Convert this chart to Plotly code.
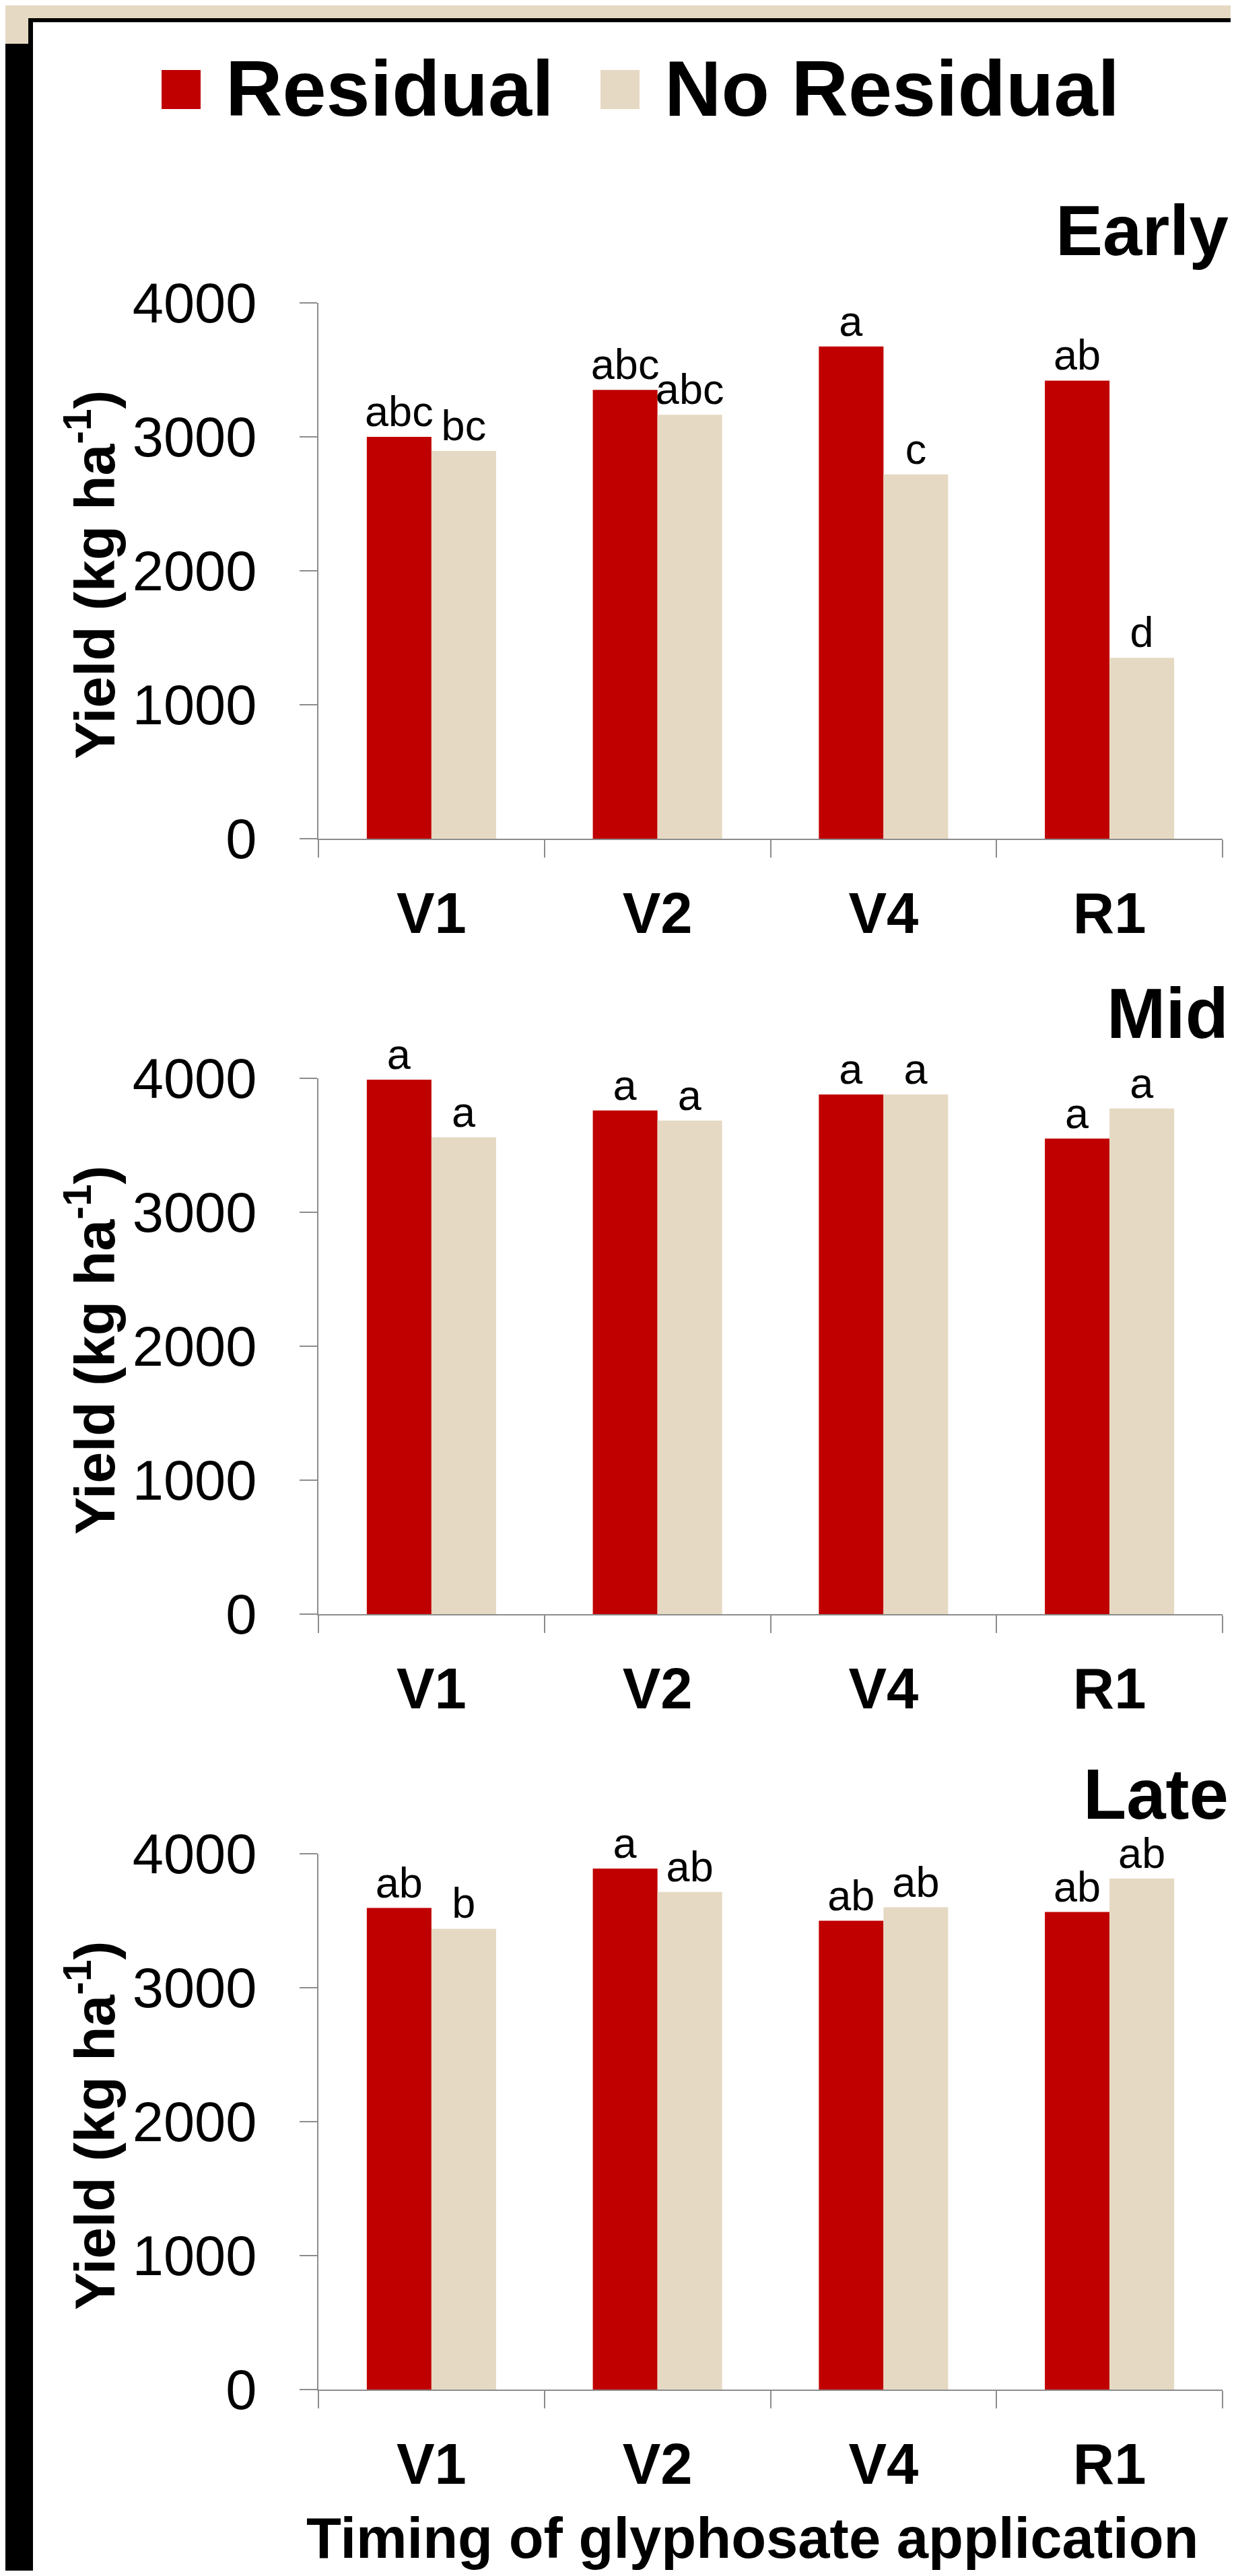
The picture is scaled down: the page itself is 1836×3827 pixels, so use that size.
import plotly.graph_objects as go

# ---------------- data ----------------
stages = ["V1", "V2", "V4", "R1"]
panels = ["Early", "Mid", "Late"]

early_residual = [3000, 3350, 3675, 3420]
early_noresidual = [2895, 3165, 2720, 1350]
early_res_letters = ["abc", "abc", "a", "ab"]
early_nores_letters = ["bc", "abc", "c", "d"]

mid_residual = [3990, 3760, 3880, 3550]
mid_noresidual = [3560, 3685, 3880, 3775]
mid_res_letters = ["a", "a", "a", "a"]
mid_nores_letters = ["a", "a", "a", "a"]

late_residual = [3595, 3890, 3500, 3565]
late_noresidual = [3440, 3715, 3600, 3815]
late_res_letters = ["ab", "a", "ab", "ab"]
late_nores_letters = ["b", "ab", "ab", "ab"]

y_ticks = [0, 1000, 2000, 3000, 4000]
series_names = ["Residual", "No Residual"]

# ---------------- style ----------------
PAGE_W, PAGE_H = 1836, 3827
OFF = 8                      # default page body margin
W, H = PAGE_W - 2 * OFF, PAGE_H - 2 * OFF
RED = "#C00000"
BEIGE = "#E6D9C3"
AXIS = "#8C8C8C"
FONT = "Liberation Sans, Arial, sans-serif"


def px(x):
    return (x - OFF) / W


def py(y):
    return 1 - (y - OFF) / H


panel_px = [(450, 1246), (1602, 2398), (2754, 3550)]
x_dom = [px(473), px(1816)]

data = [
    (early_residual, early_noresidual, early_res_letters, early_nores_letters),
    (mid_residual, mid_noresidual, mid_res_letters, mid_nores_letters),
    (late_residual, late_noresidual, late_res_letters, late_nores_letters),
]

fig = go.Figure()
layout = dict(
    template="none",
    width=W, height=H,
    margin=dict(l=0, r=0, t=0, b=0, pad=0, autoexpand=False),
    paper_bgcolor="white",
    plot_bgcolor="rgba(0,0,0,0)",
    barmode="group",
    bargap=0.428,
    bargroupgap=0,
    showlegend=False,
    font=dict(family=FONT, color="black"),
)

for i, (res, nores, rl, nl) in enumerate(data):
    suffix = "" if i == 0 else str(i + 1)
    xa, ya = "x" + suffix, "y" + suffix
    for vals, letters, name, col in [(res, rl, series_names[0], RED), (nores, nl, series_names[1], BEIGE)]:
        fig.add_trace(go.Bar(
            x=stages, y=vals, name=name, marker=dict(color=col, line=dict(width=0)),
            text=letters, textposition="outside", constraintext="none",
            textfont=dict(size=63, family=FONT, color="black"),
            cliponaxis=False, xaxis=xa, yaxis=ya, showlegend=False,
        ))
    top, bot = panel_px[i]
    layout["xaxis" + suffix] = dict(
        domain=x_dom, anchor=ya, type="category", automargin=False,
        tickson="boundaries", ticks="outside", ticklen=26, tickwidth=2, tickcolor=AXIS,
        showline=True, linecolor=AXIS, linewidth=2, showgrid=False, zeroline=False,
        tickfont=dict(size=85, family=FONT, weight="bold", color="black"),
        ticklabelstandoff=36,
    )
    layout["yaxis" + suffix] = dict(
        domain=[py(bot), py(top)], anchor=xa, range=[0, 4000], automargin=False,
        tickvals=y_ticks, ticks="outside", ticklen=26, tickwidth=2, tickcolor=AXIS,
        showline=True, linecolor=AXIS, linewidth=2, showgrid=False, zeroline=False,
        tickfont=dict(size=83, family=FONT, color="black"),
        ticklabelstandoff=47,
    )

fig.update_layout(**layout)

# ---------------- background frame ----------------
shapes = [
    dict(type="rect", xref="paper", yref="paper", x0=px(0), x1=px(PAGE_W), y0=py(PAGE_H), y1=py(0),
         fillcolor=BEIGE, line=dict(width=0), layer="below"),
    dict(type="rect", xref="paper", yref="paper", x0=px(49), x1=px(PAGE_W), y0=py(PAGE_H), y1=py(33),
         fillcolor="white", line=dict(width=0), layer="below"),
    dict(type="rect", xref="paper", yref="paper", x0=px(42), x1=px(PAGE_W), y0=py(33), y1=py(27),
         fillcolor="black", line=dict(width=0), layer="below"),
    dict(type="rect", xref="paper", yref="paper", x0=px(42), x1=px(49), y0=py(PAGE_H), y1=py(27),
         fillcolor="black", line=dict(width=0), layer="below"),
    dict(type="rect", xref="paper", yref="paper", x0=px(7), x1=px(49), y0=py(PAGE_H), y1=py(65),
         fillcolor="black", line=dict(width=0), layer="below"),
    dict(type="rect", xref="paper", yref="paper", x0=px(0), x1=px(49), y0=py(PAGE_H), y1=py(3199),
         fillcolor="black", line=dict(width=0), layer="below"),
    # legend swatches
    dict(type="rect", xref="paper", yref="paper", x0=px(240), x1=px(298), y0=py(162), y1=py(104),
         fillcolor=RED, line=dict(width=0)),
    dict(type="rect", xref="paper", yref="paper", x0=px(892), x1=px(950), y0=py(162), y1=py(104),
         fillcolor=BEIGE, line=dict(width=0)),
]
fig.update_layout(shapes=shapes)

ann = []
# legend texts
ann.append(dict(text="<b>" + series_names[0] + "</b>", x=px(333), y=py(132), xref="paper", yref="paper",
                xanchor="left", yanchor="middle", showarrow=False, font=dict(size=117, family=FONT)))
ann.append(dict(text="<b>" + series_names[1] + "</b>", x=px(985), y=py(132), xref="paper", yref="paper",
                xanchor="left", yanchor="middle", showarrow=False, font=dict(size=117, family=FONT)))
# panel titles
for name, yc in zip(panels, [342, 1505, 2665]):
    ann.append(dict(text="<b>" + name + "</b>", x=px(1827), y=py(yc), xref="paper", yref="paper",
                    xanchor="right", yanchor="middle", showarrow=False, font=dict(size=105, family=FONT)))
# y titles
for top, bot in panel_px:
    ann.append(dict(text="<b>Yield (kg ha<sup>-1</sup>)</b>", x=px(135), y=py((top + bot) / 2 + 6),
                    xref="paper", yref="paper", xanchor="center", yanchor="middle", textangle=-90,
                    showarrow=False, font=dict(size=84, family=FONT)))
# x title
ann.append(dict(text="<b>Timing of glyphosate application</b>", x=px(1117), y=py(3770), xref="paper", yref="paper",
                xanchor="center", yanchor="middle", showarrow=False, font=dict(size=85, family=FONT)))
fig.update_layout(annotations=ann)

fig.write_html("out.html")
